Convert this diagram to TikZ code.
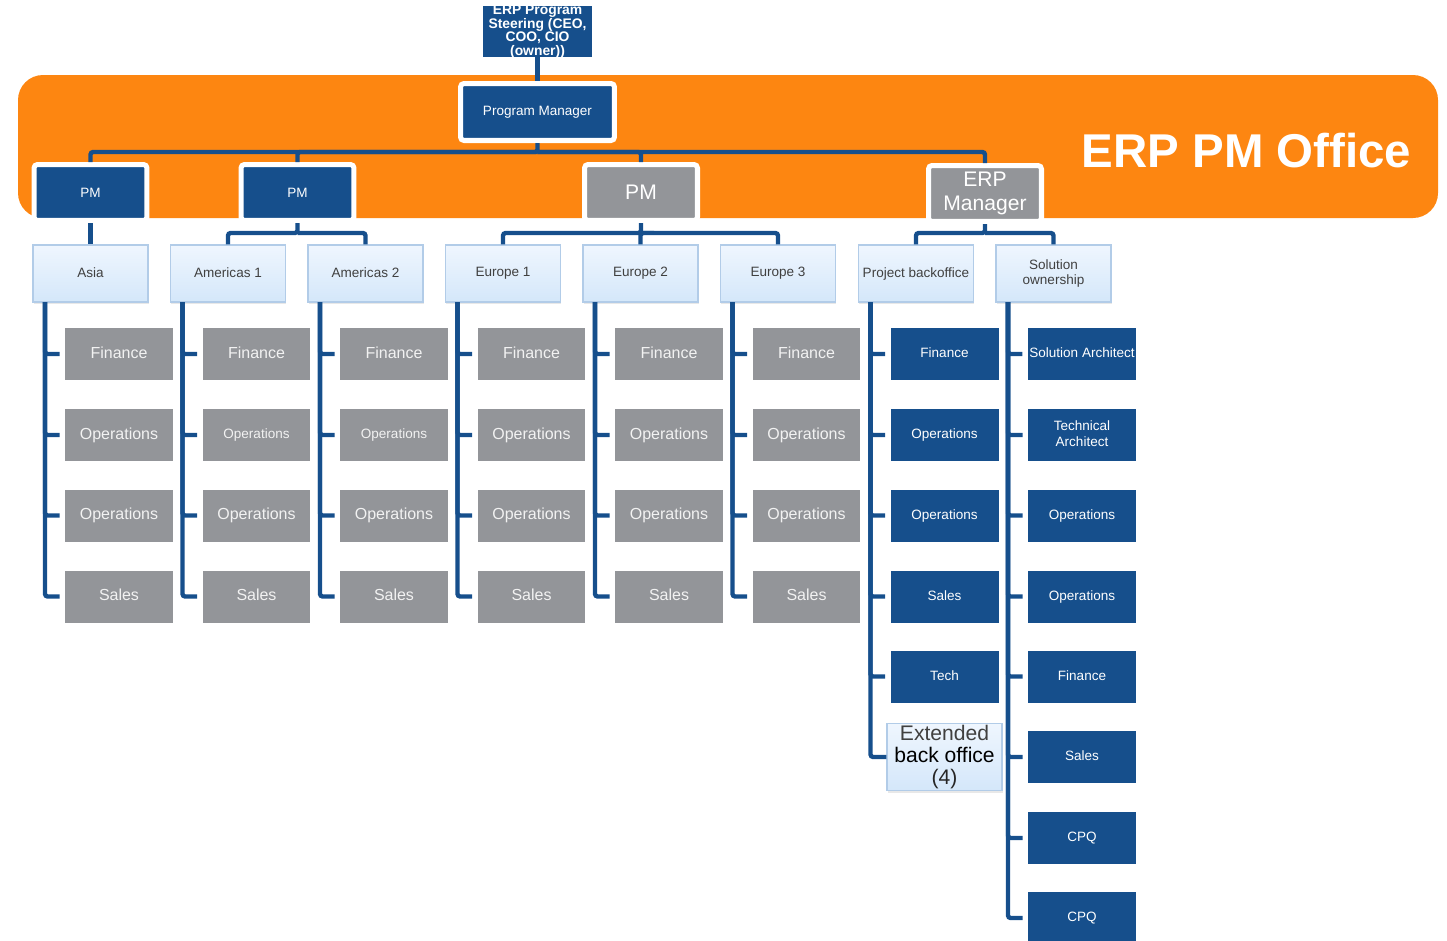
\documentclass[tikz,border=0pt]{standalone}
\usepackage{fontspec}
\setmainfont{Liberation Sans}
\usetikzlibrary{shadows}

\definecolor{erpblue}{RGB}{22,79,140}
\definecolor{erpgray}{RGB}{147,149,153}
\definecolor{erporange}{RGB}{253,134,17}
\definecolor{graytext}{RGB}{242,242,242}
\definecolor{cardtop}{RGB}{239,246,254}
\definecolor{cardbot}{RGB}{212,231,250}
\definecolor{cardedge}{RGB}{178,204,232}
\definecolor{cardtext}{RGB}{64,64,64}

\newcommand{\fsmall}{\fontsize{7.7}{9}\selectfont}
\newcommand{\fbig}{\fontsize{9.1}{10}\selectfont}
\newcommand{\fhuge}{\fontsize{12}{12.6}\selectfont}

\begin{document}
\begin{tikzpicture}[x=0.02cm, y=-0.02cm,
                    every node/.style={rectangle, align=center, inner sep=1pt},
                    link/.style={draw=erpblue, line width=2.5pt, rounded corners=1.5pt},
                    tick/.style={link, shorten >=0.1cm},
                    bluebox/.style={fill=erpblue, text=white, minimum width=2.16cm, minimum height=1.04cm,
                                    execute at begin node={\vphantom{Ap}}},
                    graybox/.style={fill=erpgray, text=graytext, minimum width=2.16cm, minimum height=1.04cm,
                                    execute at begin node={\vphantom{Ap}}},
                    headbox/.style={draw=white, line width=2.85pt, rounded corners=2pt, text=white,
                                    minimum width=2.26cm, minimum height=1.12cm},
                    card/.style={top color=cardtop, bottom color=cardbot, draw=cardedge, line width=0.7pt,
                                 minimum width=2.3cm, minimum height=1.14cm, text=cardtext, font=\fsmall,
                                 drop shadow={opacity=0.18, shadow xshift=0.3pt, shadow yshift=-1.4pt}}]

\useasboundingbox (0,0) rectangle (1447,940);

% Office band
\fill[erporange, rounded corners=0.5cm] (18,75) rectangle (1438,218);
\node[anchor=base, text=white, font=\fontsize{27}{30}\selectfont\bfseries] (office) at (1246.5,167) {ERP PM Office};

% Steering and program manager
\node[bluebox, minimum width=2.18cm, minimum height=1.02cm, inner ysep=-1.5pt,
      execute at begin node={}, font=\fontsize{7.9}{7.7}\selectfont\bfseries]
    (steer) at (537.5,31.5) {ERP Program\\Steering (CEO,\\COO, CIO\\(owner))};
\node[headbox, fill=erpblue, minimum width=3.08cm, minimum height=1.14cm, font=\fsmall]
    (pm0) at (537.5,112) {Program Manager};
\draw[link] (steer) -- (pm0);

% First level
\node[headbox, fill=erpblue, font=\fsmall] (pma) at (90.5,192.5) {PM};
\node[headbox, fill=erpblue, font=\fsmall] (pmb) at (297.5,192.5) {PM};
\node[headbox, fill=erpgray, font=\fhuge] (pmc) at (641,192.5) {PM};
\node[headbox, fill=erpgray, font=\fontsize{12}{13.6}\selectfont] (pmd) at (985,193.5) {ERP\\Manager};

\coordinate (bus0) at (537.5,152);
\draw[link] (pm0) -- (bus0) -| (pma);
\draw[link] (bus0) -| (pmb);
\draw[link] (bus0) -| (pmc);
\draw[link] (bus0) -| (pmd);

% Second level
\foreach \c/\cx/\lab in {a/90.5/Asia, b/228/Americas 1, c/365.5/Americas 2, d/503/Europe 1,
                         e/640.5/Europe 2, f/778/Europe 3, g/916/Project backoffice,
                         h/1053.5/{Solution\\ownership}} {
    \node[card] (r\c) at (\cx,273.5) {\lab\vphantom{Ap}};
    \coordinate (v\c) at (\cx-45.5,302);
}

\coordinate (busb) at (297.5,233);
\coordinate (busc) at (641,233);
\coordinate (busd) at (985,233);
\draw[link] (pma) -- (ra);
\draw[link] (pmb) -- (busb) -| (rb);
\draw[link] (busb) -| (rc);
\draw[link] (pmc) -- (busc) -| (rd);
\draw[link] (busc) -| (re);
\draw[link] (busc) -| (rf);
\draw[link] (pmd) -- (busd) -| (rg);
\draw[link] (busd) -| (rh);

% Regional teams
\foreach \c/\cx/\opfont in {a/90.5/\fbig, b/228/\fsmall, c/365.5/\fsmall,
                            d/503/\fbig, e/640.5/\fbig, f/778/\fbig} {
    \node[graybox, font=\fbig] (\c1) at (\cx+28.5,354) {Finance};
    \node[graybox, font=\opfont] (\c2) at (\cx+28.5,435) {Operations};
    \node[graybox, font=\fbig] (\c3) at (\cx+28.5,515.5) {Operations};
    \node[graybox, font=\fbig] (\c4) at (\cx+28.5,596.5) {Sales};
    \foreach \r in {1,...,4} {
        \draw[tick] (v\c) |- (\c\r);
    }
}

% Project backoffice
\foreach \r/\ry/\t in {1/354/Finance, 2/435/Operations, 3/515.5/Operations, 4/596.5/Sales, 5/676.5/Tech} {
    \node[bluebox, font=\fsmall] (g\r) at (944.5,\ry) {\t};
    \draw[tick] (vg) |- (g\r);
}
\node[card, minimum height=1.16cm, font=\fontsize{12}{12.6}\selectfont] (g6) at (944.5,757)
    {\textcolor{cardtext}{Extended}\\\textcolor{black}{back office}\\\textcolor{black!85}{(4)}};
\draw[link] (vg) |- (g6);

% Solution ownership
\foreach \r/\ry/\t in {1/354/Solution Architect, 2/435/{Technical\\Architect}, 3/515.5/Operations,
                       4/596.5/Operations, 5/676.5/Finance, 6/757/Sales, 7/838/CPQ, 8/918/CPQ} {
    \node[bluebox, font=\fsmall] (h\r) at (1082,\ry) {\t};
    \draw[tick] (vh) |- (h\r);
}

\end{tikzpicture}
\end{document}
